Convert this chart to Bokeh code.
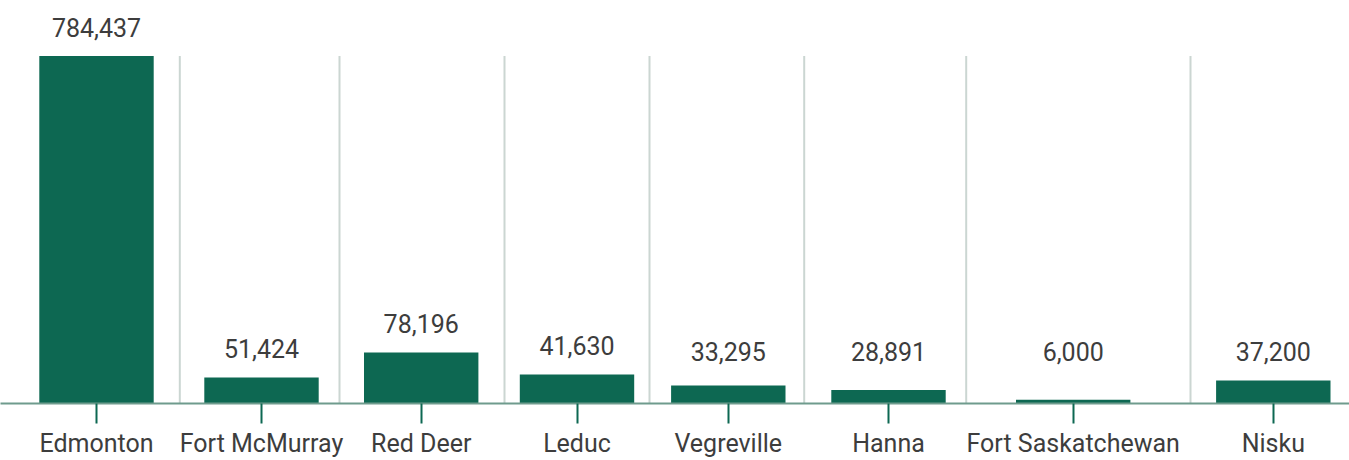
from bokeh.plotting import figure
from bokeh.models import ColumnDataSource, Range1d, FixedTicker
from bokeh.core.properties import value
from bokeh.embed import file_html
from bokeh.resources import INLINE

# ---- data ----
cities = ["Edmonton", "Fort McMurray", "Red Deer", "Leduc", "Vegreville",
          "Hanna", "Fort Saskatchewan", "Nisku"]
values = [784437, 51424, 78196, 41630, 33295, 28891, 6000, 37200]
value_labels = ["784,437", "51,424", "78,196", "41,630", "33,295", "28,891", "6,000", "37,200"]
# bar lengths as drawn in the picture (same units as the tallest bar)
bar_lengths = [784437, 58700, 115200, 65500, 40600, 30300, 8400, 51900]

# ---- layout (pixels along the x axis) ----
W, H = 1349, 460
FRAME_H = 403
TOP_BAR_PX = 347.4
slot_centers = [96, 261, 420.7, 576.5, 727.8, 888, 1072.7, 1272.8]
dividers = [179.3, 339, 504, 649, 803.7, 965.7, 1190]
BAR_W = 114.4

BAR_COLOR = "#0d6852"
TEXT_COLOR = "#3d3d3d"
FONT = "Roboto"

y_end = max(bar_lengths) * FRAME_H / TOP_BAR_PX
unit_per_px = y_end / FRAME_H
label_floor = 23.5 * unit_per_px
label_y = [max(b, label_floor) for b in bar_lengths]

src = ColumnDataSource(dict(x=slot_centers, top=bar_lengths, ly=label_y,
                            lab=value_labels, city=cities, val=values))

p = figure(width=W, height=H, output_backend="svg", toolbar_location=None,
           x_range=Range1d(0, W), y_range=Range1d(0, y_end),
           min_border_left=0, min_border_right=0, min_border_top=0,
           min_border_bottom=H - FRAME_H)
p.outline_line_color = None
p.background_fill_color = "white"
p.border_fill_color = "white"
p.xgrid.visible = False
p.ygrid.visible = False
p.yaxis.visible = False

# divider lines
p.segment(x0=dividers, x1=dividers, y0=[0] * len(dividers),
          y1=[max(bar_lengths)] * len(dividers),
          line_color="#cbd6d2", line_width=2)

p.vbar(x="x", top="top", bottom=0, width=BAR_W, source=src,
       fill_color=BAR_COLOR, line_color=None)

p.text(x="x", y="ly", text="lab", source=src, y_offset=-29,
       text_align="center", text_baseline="alphabetic",
       text_font=value(FONT), text_font_size="25px", text_color=TEXT_COLOR)

ax = p.xaxis[0]
ax.ticker = FixedTicker(ticks=slot_centers)
ax.major_label_overrides = {c: n for c, n in zip(slot_centers, cities)}
ax.axis_line_color = "#6f9b8d"
ax.axis_line_width = 2
ax.major_tick_line_color = BAR_COLOR
ax.major_tick_line_width = 2
ax.major_tick_in = 0
ax.major_tick_out = 20
ax.minor_tick_line_color = None
ax.major_label_standoff = 5
ax.major_label_text_font = FONT
ax.major_label_text_font_size = "25px"
ax.major_label_text_color = TEXT_COLOR

open("out.html", "w").write(file_html(p, INLINE))
